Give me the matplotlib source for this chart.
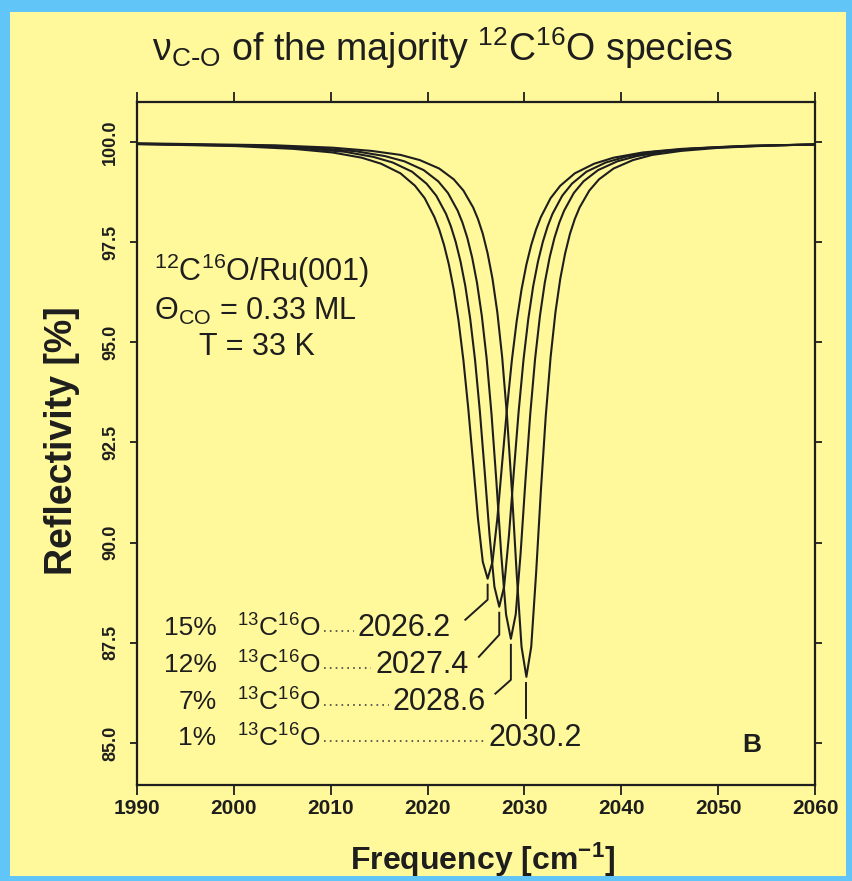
import matplotlib
matplotlib.use("Agg")
import matplotlib.pyplot as plt
from matplotlib.patches import Rectangle

plt.rcParams['font.family'] = ['Liberation Sans', 'DejaVu Sans']
plt.rcParams['mathtext.default'] = 'regular'

# reflectivity spectra, one per 13C16O concentration
freq_1 = [1990, 2004.2, 2010.2, 2014.2, 2017.2, 2019.2, 2021.2, 2022.7, 2023.7, 2024.7, 2025.2, 2025.7, 2026.2,
          2026.7, 2027.2, 2027.7, 2028.2, 2028.7, 2029.2, 2029.7, 2030.2, 2030.7, 2031.2, 2031.7, 2032.2,
          2032.7, 2033.2, 2033.7, 2034.2, 2034.7, 2035.2, 2035.7, 2036.7, 2037.7, 2039.2, 2041.2, 2043.2,
          2046.2, 2050.2, 2056.2, 2060]
refl_1 = [99.97, 99.92, 99.86, 99.78, 99.68, 99.55, 99.34, 99.07, 98.79, 98.37, 98.08, 97.71, 97.22,
          96.59, 95.75, 94.63, 93.16, 91.31, 89.22, 87.40, 86.65, 87.40, 89.22, 91.31, 93.16,
          94.63, 95.75, 96.59, 97.22, 97.71, 98.08, 98.37, 98.79, 99.07, 99.34, 99.55, 99.68,
          99.78, 99.86, 99.92, 99.94]

freq_7 = [1990, 2002.6, 2008.6, 2012.6, 2015.6, 2017.6, 2019.6, 2021.1, 2022.1, 2023.1, 2023.6, 2024.1, 2024.6,
          2025.1, 2025.6, 2026.1, 2026.6, 2027.1, 2027.6, 2028.1, 2028.6, 2029.1, 2029.6, 2030.1, 2030.6,
          2031.1, 2031.6, 2032.1, 2032.6, 2033.1, 2033.6, 2034.1, 2035.1, 2036.1, 2037.6, 2039.6, 2041.6,
          2044.6, 2048.6, 2054.6, 2060]
refl_7 = [99.96, 99.91, 99.85, 99.77, 99.65, 99.52, 99.30, 99.02, 98.73, 98.29, 97.99, 97.61, 97.12,
          96.49, 95.66, 94.59, 93.21, 91.54, 89.72, 88.21, 87.60, 88.21, 89.72, 91.54, 93.21,
          94.59, 95.66, 96.49, 97.12, 97.61, 97.99, 98.29, 98.73, 99.02, 99.30, 99.52, 99.65,
          99.77, 99.85, 99.91, 99.94]

freq_12 = [1990, 2001.4, 2007.4, 2011.4, 2014.4, 2016.4, 2018.4, 2019.9, 2020.9, 2021.9, 2022.4, 2022.9, 2023.4,
           2023.9, 2024.4, 2024.9, 2025.4, 2025.9, 2026.4, 2026.9, 2027.4, 2027.9, 2028.4, 2028.9, 2029.4,
           2029.9, 2030.4, 2030.9, 2031.4, 2031.9, 2032.4, 2032.9, 2033.9, 2034.9, 2036.4, 2038.4, 2040.4,
           2043.4, 2047.4, 2053.4, 2060]
refl_12 = [99.95, 99.91, 99.84, 99.76, 99.63, 99.49, 99.26, 98.96, 98.66, 98.21, 97.90, 97.51, 97.02,
           96.40, 95.59, 94.56, 93.27, 91.76, 90.18, 88.90, 88.40, 88.90, 90.18, 91.76, 93.27,
           94.56, 95.59, 96.40, 97.02, 97.51, 97.90, 98.21, 98.66, 98.96, 99.26, 99.49, 99.63,
           99.76, 99.84, 99.91, 99.94]

freq_15 = [1990, 2000.2, 2006.2, 2010.2, 2013.2, 2015.2, 2017.2, 2018.7, 2019.7, 2020.7, 2021.2, 2021.7, 2022.2,
           2022.7, 2023.2, 2023.7, 2024.2, 2024.7, 2025.2, 2025.7, 2026.2, 2026.7, 2027.2, 2027.7, 2028.2,
           2028.7, 2029.2, 2029.7, 2030.2, 2030.7, 2031.2, 2031.7, 2032.7, 2033.7, 2035.2, 2037.2, 2039.2,
           2042.2, 2046.2, 2052.2, 2060]
refl_15 = [99.95, 99.90, 99.83, 99.74, 99.61, 99.46, 99.22, 98.91, 98.60, 98.13, 97.82, 97.43, 96.94,
           96.32, 95.53, 94.55, 93.35, 91.99, 90.60, 89.52, 89.10, 89.52, 90.60, 91.99, 93.35,
           94.55, 95.53, 96.32, 96.94, 97.43, 97.82, 98.13, 98.60, 98.91, 99.22, 99.46, 99.61,
           99.74, 99.83, 99.90, 99.94]

# peak labels (top to bottom in the annotation block)
pct_labels = ['15%', '12%', '7%', '1%']
peak_freq = [2026.2, 2027.4, 2028.6, 2030.2]
peak_min = [89.10, 88.40, 87.60, 86.65]

xticks = [1990, 2000, 2010, 2020, 2030, 2040, 2050, 2060]
yticks = [85.0, 87.5, 90.0, 92.5, 95.0, 97.5, 100.0]

YELLOW = '#FFF99C'
BLUE = '#62C5F8'
INK = '#1e1e1e'

fig = plt.figure(figsize=(8.52, 8.81), dpi=100, facecolor=BLUE)
fig.patches.append(Rectangle((0.0117, 0.006), 0.981, 0.980, transform=fig.transFigure,
                             facecolor=YELLOW, edgecolor='none', zorder=-10))

ax = fig.add_axes([0.1608, 0.1090, 0.7958, 0.7752])
ax.set_facecolor('none')
ax.set_zorder(2)

for f, r in [(freq_1, refl_1), (freq_7, refl_7), (freq_12, refl_12), (freq_15, refl_15)]:
    ax.plot(f, r, color=INK, lw=1.5, solid_joinstyle='round')

ax.set_xlim(1990, 2060)
ax.set_ylim(83.95, 101.0)
ax.set_xticks(xticks)
ax.set_yticks(yticks)
ax.set_xticklabels([str(t) for t in xticks], fontsize=15, fontweight='bold')
ax.set_yticklabels([f'{t:.1f}' for t in yticks], fontsize=13, fontweight='bold',
                   rotation=90, va='center')
ax.tick_params(axis='x', direction='out', length=7, width=1.3, top=True, pad=3, colors=INK)
ax.tick_params(axis='y', direction='out', length=5, width=1.3, right=True, pad=8, colors=INK)
for s in ax.spines.values():
    s.set_linewidth(1.6)
    s.set_color(INK)

ax.set_xlabel('Frequency [cm$^{-1}$]', fontsize=23, fontweight='bold', color=INK)
ax.xaxis.set_label_coords(0.51, -0.082)
ax.xaxis.label.set_va('top')
ax.set_ylabel('Reflectivity [%]', fontsize=27, fontweight='bold', color=INK)
ax.yaxis.set_label_coords(-0.084, 0.504)

fig.text(0.52, 0.945, r'ν$_{C\text{-}O}$ of the majority $^{12}$C$^{16}$O species',
         fontsize=27, ha='center', va='center', color=INK)

# sample description
ax.text(1991.8, 96.78, '$^{12}$C$^{16}$O/Ru(001)', fontsize=22, va='center', color=INK)
ax.text(1991.8, 95.78, 'Θ$_{CO}$ = 0.33 ML', fontsize=22, va='center', color=INK)
ax.text(1996.4, 94.88, 'T = 33 K', fontsize=22, va='center', color=INK)
ax.text(2053.5, 84.95, 'B', fontsize=19, fontweight='bold', va='center', ha='center', color=INK)

# isotope annotation rows
row_y = [87.875, 86.95, 86.03, 85.125]
val_x = [2012.8, 2014.6, 2016.4, 2026.3]
val_end = [2023.9, 2025.3, 2027.0, None]
kink_y = [88.575, 87.70, 86.575, None]
for i in range(4):
    y = row_y[i]
    ax.text(1998.2, y, pct_labels[i], fontsize=19, ha='right', va='center', color=INK)
    ax.text(2000.3, y, '$^{13}$C$^{16}$O', fontsize=19, ha='left', va='center', color=INK)
    ax.plot([2009.3, val_x[i] - 0.4], [y - 0.08, y - 0.08], color='#444444', lw=1.2, ls=(0, (1, 2.5)))
    ax.text(val_x[i], y, f'{peak_freq[i]:.1f}', fontsize=22, ha='left', va='center', color=INK)
    top = peak_min[i] - 0.15
    if val_end[i] is None:
        ax.plot([peak_freq[i], peak_freq[i]], [y + 0.5, top], color=INK, lw=1.4)
    else:
        ax.plot([val_end[i], peak_freq[i], peak_freq[i]], [y + 0.2, kink_y[i], top], color=INK, lw=1.4)

fig.savefig('out.png', dpi=100, facecolor=BLUE)
